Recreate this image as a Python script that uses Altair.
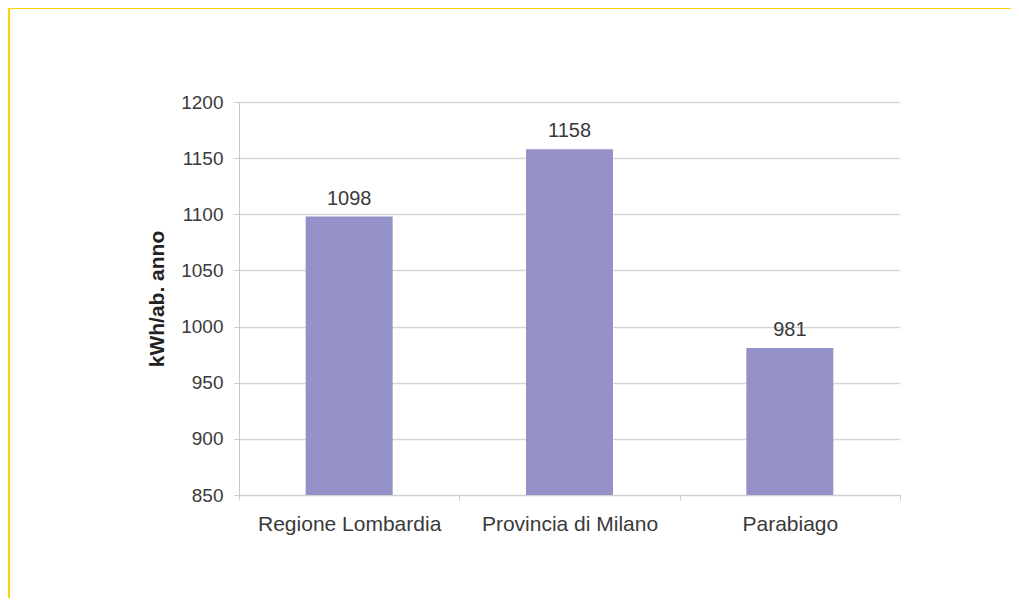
import altair as alt
import pandas as pd

categories = ["Regione Lombardia", "Provincia di Milano", "Parabiago"]
values = [1098, 1158, 981]
y_ticks = [850, 900, 950, 1000, 1050, 1100, 1150, 1200]

df = pd.DataFrame({"cat": categories, "val": values})

FONT = "Liberation Sans"
BAR = "#9391C8"
FRAME = "#FFD200"

x_enc = alt.X(
    "cat:N",
    sort=categories,
    title=None,
    scale=alt.Scale(paddingInner=0, paddingOuter=0),
    axis=alt.Axis(
        labelAngle=0,
        labelFont=FONT,
        labelFontSize=21,
        labelColor="#3a3a3a",
        labelPadding=13,
        labelLimit=400,
        tickBand="extent",
        tickSize=5,
        tickColor="#d0d0d0",
        domainColor="#d0d0d0",
        grid=False,
    ),
)
y_enc = alt.Y(
    "val:Q",
    title="kWh/ab. anno",
    scale=alt.Scale(domain=[850, 1200], nice=False, zero=False),
    axis=alt.Axis(
        values=y_ticks,
        format="d",
        labelFont=FONT,
        labelFontSize=19,
        labelColor="#3a3a3a",
        labelPadding=11,
        tickSize=5,
        tickColor="#c8c8c8",
        domainColor="#c8c8c8",
        gridColor="#d6d6d6",
        gridWidth=1.5,
        titleFont=FONT,
        titleFontSize=21,
        titleFontWeight="bold",
        titleColor="#222222",
        titlePadding=13,
    ),
)

base = alt.Chart(df)
bars = base.mark_bar(size=87, color=BAR).encode(x=x_enc, y=y_enc, y2=alt.datum(850))
labels = base.mark_text(
    font=FONT, fontSize=20, color="#3a3a3a", baseline="bottom", dy=-8
).encode(x=alt.X("cat:N", sort=categories), y="val:Q", text="val:Q")

frame_top = base.mark_rule(color=FRAME, strokeWidth=2).encode(
    x=alt.value(-231), x2=alt.value(780), y=alt.value(-94)
)
frame_left = base.mark_rule(color=FRAME, strokeWidth=2).encode(
    x=alt.value(-230), y=alt.value(-94), y2=alt.value(500)
)

chart = (
    alt.layer(frame_top, frame_left, bars, labels)
    .properties(
        width=661,
        height=393,
        autosize=alt.AutoSizeParams(type="none"),
        padding={"left": 231, "top": 94, "right": 111, "bottom": 103},
        background="white",
    )
    .configure_view(stroke=None)
)

chart.save("out.html", embed_options={"renderer": "svg", "actions": False})
